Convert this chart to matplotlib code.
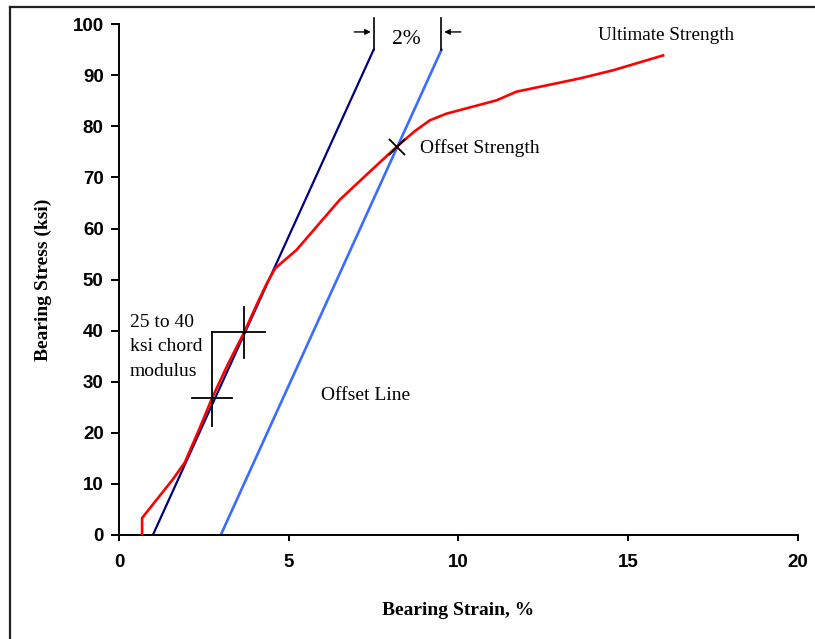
import matplotlib.pyplot as plt
from matplotlib.lines import Line2D

# Bearing stress-strain curve (strain in %, stress in ksi)
strain_curve = [0.68, 0.68, 1.59, 1.94, 2.35, 2.75, 3.2, 3.69, 4.05, 4.35, 4.6,
                5.23, 6.5, 7.4, 8.18, 8.7, 9.16, 9.65, 11.12, 11.71, 13.58, 14.56, 16.03]
stress_curve = [0, 3.3, 10.9, 14.2, 20.5, 26.9, 33.3, 39.7, 45.0, 49.2, 52.2,
                55.8, 65.6, 71.2, 76.0, 79.0, 81.2, 82.5, 85.1, 86.8, 89.4, 91.0, 93.9]

# Chord modulus line and the 2% offset line
chord_strain = [1.0, 7.5]
chord_stress = [0, 95]
offset_strain = [3.0, 9.5]
offset_stress = [0, 95]

# Chord points (25 to 40 ksi) and offset strength point
chord_pts_strain = [2.75, 3.69]
chord_pts_stress = [26.9, 39.7]
offset_pt = (8.18, 76.0)

xticks = [0, 5, 10, 15, 20]
yticks = list(range(0, 101, 10))

serif = 'Liberation Serif'
sans = 'Liberation Sans'

fig = plt.figure(figsize=(8.15, 6.39), dpi=100)
ax = fig.add_axes([0.146, 0.163, 0.833, 0.799])

ax.plot(chord_strain, chord_stress, color='#000080', lw=1.6, zorder=2)
ax.plot(offset_strain, offset_stress, color='#3a6cff', lw=1.9, zorder=2)
ax.plot(strain_curve, stress_curve, color='red', lw=1.9, zorder=3)

# crosshair marks at the chord points, joined by a bracket
lo_x, up_x = chord_pts_strain
lo_y, up_y = chord_pts_stress
k = dict(color='black', lw=1.3, zorder=4)
ax.plot([lo_x - 0.61, lo_x + 0.59], [lo_y, lo_y], **k)
ax.plot([lo_x, lo_x], [lo_y - 5.5, up_y], **k)
ax.plot([lo_x, up_x + 0.61], [up_y, up_y], **k)
ax.plot([up_x, up_x], [up_y - 5.1, up_y + 5.0], **k)

ax.plot(*offset_pt, marker='x', color='black', ms=12, mew=1.3, zorder=5)

# 2% offset dimension at the top
for xv in (chord_strain[1], offset_strain[1]):
    ax.plot([xv, xv], [chord_stress[1], 101.2], color='black', lw=1.2, clip_on=False)
ax.annotate('', xy=(chord_strain[1], 98.5), xytext=(6.85, 98.5),
            arrowprops=dict(arrowstyle='-|>', color='black', lw=1.0, mutation_scale=8),
            annotation_clip=False)
ax.annotate('', xy=(offset_strain[1], 98.5), xytext=(10.15, 98.5),
            arrowprops=dict(arrowstyle='-|>', color='black', lw=1.0, mutation_scale=8),
            annotation_clip=False)
ax.text(8.48, 97.0, '2%', family=serif, fontsize=15.5, ha='center', va='center')

ax.text(16.13, 97.8, 'Ultimate Strength', family=serif, fontsize=13.8, ha='center', va='center')
ax.text(8.87, 75.7, 'Offset Strength', family=serif, fontsize=14, ha='left', va='center')
ax.text(5.94, 27.2, 'Offset Line', family=serif, fontsize=14, ha='left', va='center')
ax.text(0.32, 36.8, '25 to 40\nksi chord\nmodulus', family=serif, fontsize=14,
        ha='left', va='center', linespacing=1.55)

ax.set_xlim(0, 20)
ax.set_ylim(0, 100)
ax.set_xticks(xticks)
ax.set_yticks(yticks)
for s in ('top', 'right'):
    ax.spines[s].set_visible(False)
for s in ('left', 'bottom'):
    ax.spines[s].set_linewidth(1.4)
ax.tick_params(axis='y', direction='out', length=6, width=1.4, pad=5)
ax.tick_params(axis='x', direction='out', length=4, width=1.4, pad=10)
for lbl in ax.get_xticklabels() + ax.get_yticklabels():
    lbl.set_family(sans)
    lbl.set_fontweight('bold')
    lbl.set_fontsize(13.5)

ax.set_xlabel('Bearing Strain, %', family=serif, fontweight='bold', fontsize=14)
ax.set_ylabel('Bearing Stress (ksi)', family=serif, fontweight='bold', fontsize=14)
ax.xaxis.set_label_coords(0.5, -0.131)
ax.yaxis.set_label_coords(-0.099, 0.5)

# frame lines along the top and left edge of the figure
fig.add_artist(Line2D([0.0125, 1.0], [0.9885, 0.9885], transform=fig.transFigure,
                      color='#222222', lw=1.6))
fig.add_artist(Line2D([0.0125, 0.0125], [0.0, 0.9885], transform=fig.transFigure,
                      color='#222222', lw=1.6))

fig.savefig('out.png', dpi=100)
